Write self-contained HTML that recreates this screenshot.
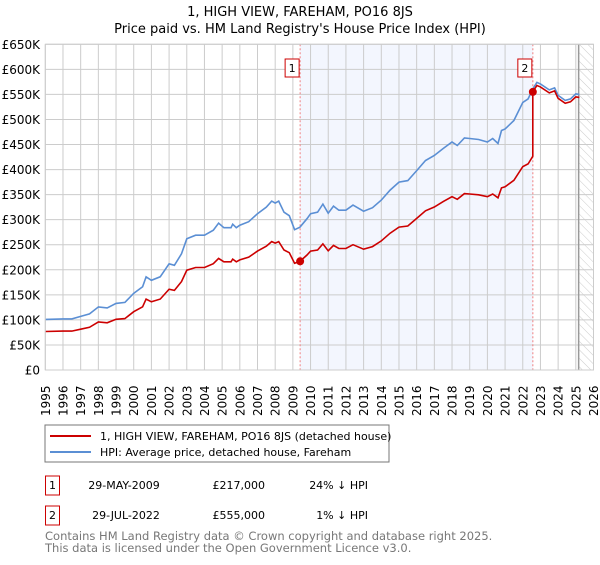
<!DOCTYPE html>
<html><head><meta charset="utf-8"><style>
body{margin:0;background:#fff;font-family:"Liberation Sans","DejaVu Sans",sans-serif;}
svg text{font-family:"DejaVu Sans","Liberation Sans",sans-serif;}
</style></head><body>
<svg id="c" width="600" height="560" xmlns="http://www.w3.org/2000/svg">
<defs><pattern id="hatch" width="6" height="6" patternUnits="userSpaceOnUse" patternTransform="rotate(-45)"><line x1="0" y1="0" x2="0" y2="6" stroke="#ccc" stroke-width="1"/></pattern></defs>
<text x="300" y="16" text-anchor="middle" font-size="13">1, HIGH VIEW, FAREHAM, PO16 8JS</text>
<text x="300" y="33" text-anchor="middle" font-size="13">Price paid vs. HM Land Registry's House Price Index (HPI)</text>
<g id="plot"></g>
<rect x="45" y="425" width="344" height="37" fill="#fff" stroke="#777"/>
<line x1="50" y1="436" x2="91" y2="436" stroke="#cc0000" stroke-width="2"/>
<text x="100" y="440" font-size="11">1, HIGH VIEW, FAREHAM, PO16 8JS (detached house)</text>
<line x1="50" y1="452" x2="91" y2="452" stroke="#5b8fd4" stroke-width="2"/>
<text x="100" y="456" font-size="11">HPI: Average price, detached house, Fareham</text>
<g font-size="11">
<rect x="45.5" y="476" width="14" height="19" fill="#fff" stroke="#cc0000"/><text x="52.5" y="489" text-anchor="middle">1</text>
<text x="124" y="489" text-anchor="middle">29-MAY-2009</text><text x="265" y="489" text-anchor="end">£217,000</text><text x="368" y="489" text-anchor="end">24% ↓ HPI</text></g>
<g font-size="11">
<rect x="45.5" y="506" width="14" height="19" fill="#fff" stroke="#cc0000"/><text x="52.5" y="519" text-anchor="middle">2</text>
<text x="126" y="519" text-anchor="middle">29-JUL-2022</text><text x="265" y="519" text-anchor="end">£555,000</text><text x="368" y="519" text-anchor="end">1% ↓ HPI</text></g>
<text x="45" y="540" font-size="11.5" fill="#777">Contains HM Land Registry data © Crown copyright and database right 2025.</text>
<text x="45" y="552" font-size="11.5" fill="#777">This data is licensed under the Open Government Licence v3.0.</text>
</svg>
<script>
const hpiYears=[1995,1996,1996.5,1997,1997.5,1998,1998.5,1999,1999.5,2000,2000.5,2000.7,2001,2001.5,2002,2002.3,2002.7,2003,2003.5,2004,2004.5,2004.8,2005.1,2005.5,2005.6,2005.8,2006,2006.5,2007,2007.5,2007.8,2008,2008.2,2008.5,2008.8,2009.1,2009.4,2009.8,2010,2010.4,2010.7,2011,2011.3,2011.6,2012,2012.4,2013,2013.5,2014,2014.5,2015,2015.5,2016,2016.5,2017,2017.5,2018,2018.3,2018.7,2019,2019.5,2020,2020.3,2020.6,2020.8,2021,2021.5,2022,2022.3,2022.57,2022.8,2023,2023.5,2023.8,2024,2024.4,2024.7,2025,2025.2];
const hpiValues=[101,102,102,107,112,126,124,133,135,153,166,186,179,186,212,209,232,262,269,269,279,293,284,284,291,284,289,296,312,325,337,333,337,315,308,280,285,302,312,315,331,313,327,319,319,329,317,324,339,359,375,378,398,418,428,442,455,448,463,462,460,455,462,452,478,481,498,534,541,561,574,571,559,563,548,538,541,551,550];
const saleYears=[2009.41,2022.57];
const salePrices=[217,555];
const saleLabels=["1","2"];
const yTicks=[0,50,100,150,200,250,300,350,400,450,500,550,600,650];
const yTickLabels=["£0","£50K","£100K","£150K","£200K","£250K","£300K","£350K","£400K","£450K","£500K","£550K","£600K","£650K"];
const xTicks=[1995,1996,1997,1998,1999,2000,2001,2002,2003,2004,2005,2006,2007,2008,2009,2010,2011,2012,2013,2014,2015,2016,2017,2018,2019,2020,2021,2022,2023,2024,2025,2026];
const dataEnd=2025.16;

const NS="http://www.w3.org/2000/svg";
const X0=45.3,X1=593.5,Y0=370,Y1=44.3;
const xs=y=>X0+(y-1995)/(2026-1995)*(X1-X0);
const ys=v=>Y0-v/650*(Y0-Y1);
const g=document.getElementById('plot');
function mk(t,a,p){const e=document.createElementNS(NS,t);for(const k in a)e.setAttribute(k,a[k]);(p||g).appendChild(e);return e;}
const shade=mk('rect',{x:xs(saleYears[0]),y:Y1,width:xs(saleYears[1])-xs(saleYears[0]),height:Y0-Y1,fill:'#f3f6fe'});


const hat=mk('rect',{x:xs(dataEnd),y:Y1,width:X1-xs(dataEnd),height:Y0-Y1,fill:'url(#hatch)'});


yTicks.forEach((v,i)=>{
 const l=mk('line',{x1:X0,x2:X1,y1:ys(v),y2:ys(v),stroke:'#ccc'});
 
 
 const t=mk('text',{x:40,y:ys(v)+4.5,'text-anchor':'end','font-size':12});
 
 
 t.textContent=yTickLabels[i];
});
xTicks.forEach(yr=>{
 const l=mk('line',{x1:xs(yr),x2:xs(yr),y1:Y1,y2:Y0,stroke:'#ccc'});
 
 
 const t=mk('text',{x:0,y:0,'font-size':12,transform:`translate(${xs(yr)+4.5},${Y0+46}) rotate(-90)`});
 
 
 t.textContent=yr;
});
const el=mk('line',{x1:xs(dataEnd),x2:xs(dataEnd),y1:Y1,y2:Y0,stroke:'#999','stroke-width':1.5});


saleYears.forEach((yr,i)=>{
 const l=mk('line',{x1:xs(yr),x2:xs(yr),y1:Y1,y2:Y0,stroke:'#f08080','stroke-dasharray':'2,2'});
 
 
 const b=mk('rect',{x:xs(yr)-15,y:59,width:14,height:18,fill:'#fff',stroke:'#cc0000'});
 
 
 const t=mk('text',{x:xs(yr)-8,y:72,'text-anchor':'middle','font-size':11});
 
 
 t.textContent=saleLabels[i];
});
function hpiAt(yr){for(let i=1;i<hpiYears.length;i++){if(yr<=hpiYears[i]){const f=(yr-hpiYears[i-1])/(hpiYears[i]-hpiYears[i-1]);return hpiValues[i-1]+f*(hpiValues[i]-hpiValues[i-1]);}}return hpiValues[hpiValues.length-1];}
const r1=salePrices[0]/hpiAt(saleYears[0]),r2=salePrices[1]/hpiAt(saleYears[1]);
const bp=hpiYears.map((y,i)=>xs(y).toFixed(1)+','+ys(hpiValues[i]).toFixed(1)).join(' ');
const hl=mk('polyline',{points:bp,fill:'none',stroke:'#5b8fd4','stroke-width':1.6});


const rp=[];
hpiYears.forEach((y,i)=>{
 if(y>saleYears[1]&&rp.length&&hpiYears[i-1]<=saleYears[1]){rp.push([saleYears[1],hpiAt(saleYears[1])*r1]);rp.push([saleYears[1],salePrices[1]]);}
 const r=y<=saleYears[1]?r1:r2;rp.push([y,hpiValues[i]*r]);
});
const rl=mk('polyline',{points:rp.map(p=>xs(p[0]).toFixed(1)+','+ys(p[1]).toFixed(1)).join(' '),fill:'none',stroke:'#cc0000','stroke-width':1.6});


saleYears.forEach((yr,i)=>{
 const c=mk('circle',{cx:xs(yr),cy:ys(salePrices[i]),r:4,fill:'#cc0000'});
 
 
});
const ax=mk('rect',{x:X0,y:Y1,width:X1-X0,height:Y0-Y1,fill:'none',stroke:'#ccc'});


</script>
</body></html>
